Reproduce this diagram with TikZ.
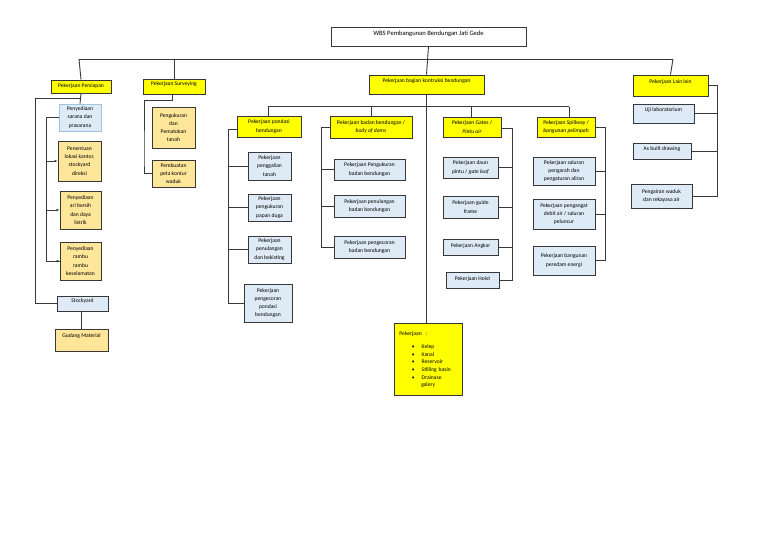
\documentclass[tikz,border=0pt]{standalone}
\usepackage{fontspec}
\setmainfont{Carlito}
\usetikzlibrary{arrows.meta}
\definecolor{ylw}{HTML}{FFFF00}
\definecolor{gold}{HTML}{FFE699}
\definecolor{lblue}{HTML}{DEEBF7}
\definecolor{lbord}{HTML}{9DC3E6}
\definecolor{ln}{HTML}{383838}
\begin{document}
\begin{tikzpicture}[x=1pt,y=-1pt,
  base/.style={draw=ln,line width=0.9pt,inner sep=0pt,align=center,font=\fontsize{5.6}{8.2}\selectfont},
  ybox/.style={base,fill=ylw},
  gbox/.style={base,fill=gold},
  bbox/.style={base,fill=lblue},
  wbox/.style={base,fill=white},
  raise/.style={text height=4pt,text depth=#1},
  conn/.style={draw=ln,line width=0.9pt},
  arr/.style={conn,-{Latex[length=3pt,width=2.6pt]}}
]
\useasboundingbox (0,0) rectangle (768,543);
% top
\node[wbox,minimum width=195pt,minimum height=19pt,font=\fontsize{6.6}{8}\selectfont,text height=4.7pt,text depth=6.4pt] (wbs) at (428.5,36.5) {WBS Pembangunan Bendungan Jati Gede};
\node[ybox,minimum width=60pt,minimum height=13pt,raise=2.2pt] (persiapan) at (81,86.5) {Pekerjaan Persiapan};
\node[ybox,minimum width=62pt,minimum height=15pt,raise=5.2pt] (survey) at (174,86.5) {Pekerjaan Surveying};
\node[ybox,minimum width=115pt,minimum height=19pt,raise=8.2pt] (kontruksi) at (426.5,84.5) {Pekerjaan bagian kontruksi bendungan};
\node[ybox,minimum width=75pt,minimum height=21pt,raise=8.2pt] (lain) at (670.5,85.5) {Pekerjaan Lain lain};
% persiapan subtree
\node[bbox,draw=lbord,minimum width=42pt,minimum height=27pt] (sarana) at (80,117.5) {Penyediaan\\sarana dan\\prasarana};
\node[gbox,minimum width=43pt,minimum height=40pt] (penentuan) at (79.5,161) {Penentuan\\lokasi kantor,\\stockyard\\direksi};
\node[gbox,minimum width=41pt,minimum height=38pt] (air) at (80.5,210) {Penyediaan\\ari bersih\\dan daya\\listrik};
\node[gbox,minimum width=41pt,minimum height=38pt] (rambu) at (80.5,261) {Penyediaan\\rambu\\rambu\\keselamatan};
\node[bbox,minimum width=51pt,minimum height=15pt,raise=5.2pt] (stock) at (82.5,303.5) {Stockyard};
\node[gbox,minimum width=53pt,minimum height=22pt,raise=9.2pt] (gudang) at (81.5,340) {Gudang Material};
% survey subtree
\node[gbox,minimum width=43pt,minimum height=41pt] (ukur) at (173.5,127.5) {Pengukuran\\dan\\Pematokan\\tanah};
\node[gbox,minimum width=43pt,minimum height=27pt] (peta) at (173.5,173.5) {Pembuatan\\peta kontur\\waduk};
% kontruksi level
\node[ybox,minimum width=64pt,minimum height=21pt] (pondasi) at (269,126.5) {Pekerjaan pondasi\\bendungan};
\node[ybox,minimum width=82pt,minimum height=22pt] (badan) at (371,127) {Pekerjaan badan bendungan /\\\textit{body of dams}};
\node[ybox,minimum width=58pt,minimum height=20pt] (gates) at (472,127) {Pekerjaan Gates /\\\textit{Pintu air}};
\node[ybox,minimum width=58pt,minimum height=20pt] (spill) at (566,127) {Pekerjaan Spillway /\\\textit{bangunan pelimpah}};
% pondasi children
\node[bbox,minimum width=43pt,minimum height=28pt] (galian) at (269.5,166) {Pekerjaan\\penggalian\\tanah};
\node[bbox,minimum width=43pt,minimum height=27pt] (papan) at (269.5,207.5) {Pekerjaan\\pengukuran\\papan duga};
\node[bbox,minimum width=43pt,minimum height=27pt] (besi) at (269.5,249.5) {Pekerjaan\\penulangan\\dan bekisting};
\node[bbox,minimum width=48pt,minimum height=38pt] (cor) at (268,303) {Pekerjaan\\pengecoran\\pondasi\\bendungan};
% badan children
\node[bbox,minimum width=71pt,minimum height=21pt] (bukur) at (369.5,169.5) {Pekerjaan Pengukuran\\badan bendungan};
\node[bbox,minimum width=71pt,minimum height=22pt] (bbesi) at (369.5,206) {Pekerjaan penulangan\\badan bendungan};
\node[bbox,minimum width=71pt,minimum height=22pt] (bcor) at (369.5,247) {Pekerjaan pengecoran\\badan bendungan};
% gates children
\node[bbox,minimum width=55pt,minimum height=21pt] (dian) at (470.5,167.5) {Pekerjaan daun\\pintu / \textit{gate leaf}};
\node[bbox,minimum width=55pt,minimum height=22pt] (guide) at (470.5,207) {Pekerjaan guide\\frame};
\node[bbox,minimum width=55pt,minimum height=16pt,raise=3.2pt] (angkar) at (470.5,247) {Pekerjaan Angkar};
\node[bbox,minimum width=53pt,minimum height=16pt,raise=2.2pt] (hoist) at (472.5,280) {Pekerjaan Hoist};
% spillway children
\node[bbox,minimum width=62pt,minimum height=28pt] (saluran) at (564,171) {Pekerjaan saluran\\pengarah dan\\pengaturan aliran};
\node[bbox,minimum width=62pt,minimum height=30pt] (pengatur) at (564,214) {Pekerjaan pengangat\\debit air / saluran\\peluncur};
\node[bbox,minimum width=62pt,minimum height=29pt] (peredam) at (564,260.5) {Pekerjaan bangunan\\peredam energi};
% lain children
\node[bbox,minimum width=61pt,minimum height=19pt,raise=8.2pt] (uji) at (663.5,113.5) {Uji laboratorium};
\node[bbox,minimum width=58pt,minimum height=16pt,raise=5.8pt] (asbuilt) at (662,151) {As built drawing};
\node[bbox,minimum width=61pt,minimum height=24pt] (pengairan) at (661.5,196) {Pengairan waduk\\dan rekayasa air};
% pekerjaan list
\node[ybox,minimum width=68pt,minimum height=72pt,align=left,anchor=north west,text width=58pt,inner xsep=5pt,inner ysep=0pt,font=\fontsize{5.6}{7.6}\selectfont] (pek) at (394,323) {Pekerjaan\ \ :\\[6pt]
\hspace*{12.5pt}\textbullet\hspace{7pt}Kelep\\
\hspace*{12.5pt}\textbullet\hspace{7pt}Kanal\\
\hspace*{12.5pt}\textbullet\hspace{7pt}Reservoir\\
\hspace*{12.5pt}\textbullet\hspace{7pt}Stilling basin\\
\hspace*{12.5pt}\textbullet\hspace{7pt}Drainase\\
\hspace*{21.8pt}galery\\[7pt]};
% main connectors
\coordinate (h1) at (79,59);
\coordinate (h2) at (673,59);
\draw[conn] (h1) -- (h2);
\draw[conn] (wbs.south) -- (kontruksi.north);
\draw[conn] (h1) -- (persiapan.north);
\draw[conn] (persiapan.north -| survey.north) ++(0,-21) -- (survey.north);
\draw[conn] (h2) -- (lain.north);
% persiapan
\draw[conn] (persiapan.south) -- (sarana.north);
\coordinate (p1) at (35,98);
\draw[conn] (persiapan.south |- p1) -- (p1) |- (stock.west);
\draw[conn] (sarana.west) -- ++(-12,0) coordinate (s1) |- (rambu.west);
\draw[arr] (s1 |- penentuan.west) -- (penentuan.west);
\draw[arr] (s1 |- air.west) -- (air.west);
\draw[arr] (s1 |- rambu.west) -- (rambu.west);
\draw[conn] (stock.south) ++(-1.5,0) -- (gudang.north -| 81,0);
% survey
\draw[conn] (survey.south) ++(-2,0) -- ++(0,6) -| (144,160) |- (peta.west);
% kontruksi
\draw[conn] (kontruksi.south) -- (pek.north -| kontruksi.south);
\coordinate (k1) at (268,106.5);
\coordinate (k2) at (569,106.5);
\draw[conn] (k1) -- (k2);
\draw[conn] (k1) -- (k1 |- pondasi.north);
\draw[conn] (371,106.5) -- (badan.north);
\draw[conn] (471,106.5) -- (471,117);
\draw[conn] (k2) -- (k2 |- spill.north);
% pondasi
\draw[conn] (pondasi.west) ++(0,2.5) -- (228,129) coordinate (q1) |- (cor.west);
\draw[conn] (q1) |- (galian.west);
\draw[conn] (q1) |- (papan.west);
\draw[conn] (q1) |- (besi.west);
% badan
\draw[conn] (badan.west) -- (321,127) coordinate (b1) |- (bcor.west);
\draw[conn] (b1) |- (bukur.west);
\draw[conn] (b1) |- (bbesi.west);
% gates
\draw[conn] (gates.east) ++(0,1) -- (512,128) coordinate (g1) |- (hoist.east);
\draw[conn] (g1) |- (dian.east);
\draw[conn] (g1) |- (guide.east);
\draw[conn] (g1) |- (angkar.east);
% spillway
\draw[conn] (spill.east) -- (605,127) coordinate (w1) |- (peredam.east);
\draw[conn] (w1) |- (saluran.east);
\draw[conn] (w1) |- (pengatur.east);
% lain
\draw[conn] (lain.east) -- (717,85.5) coordinate (l1) |- (pengairan.east);
\draw[conn] (l1) |- (uji.east);
\draw[conn] (l1) |- (asbuilt.east);
\end{tikzpicture}
\end{document}
